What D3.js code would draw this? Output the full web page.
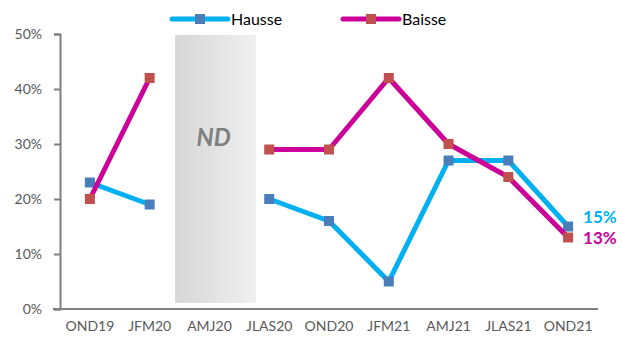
<!DOCTYPE html>
<html><head><meta charset="utf-8">
<script src="https://cdn.jsdelivr.net/npm/d3@7"></script>
<style>body{margin:0;background:#fff}svg{display:block}</style>
</head><body>
<svg id="c" width="622" height="341"></svg>
<script>
const categories = ["OND19","JFM20","AMJ20","JLAS20","OND20","JFM21","AMJ21","JLAS21","OND21"];
const hausse = [23,19,null,20,16,5,27,27,15];
const baisse = [20,42,null,29,29,42,30,24,13];
const yTicks = [0,10,20,30,40,50];
const seriesNames = ["Hausse","Baisse"];
const gapCategory = "AMJ20";
const gapLabel = "ND";

const font = "Lato, 'Open Sans', sans-serif";
const svg = d3.select("#c");
const m = {l:60, r:24, t:34, b:32};
const W = 622, H = 341;
const x = d3.scaleBand().domain(categories).range([m.l, W - m.r]);
const y = d3.scaleLinear().domain([0,50]).range([H - m.b, m.t]);

// gradient for ND band
const defs = svg.append("defs");
const g = defs.append("linearGradient").attr("id","ndg").attr("x1","0").attr("x2","1").attr("y1","0").attr("y2","0");
g.append("stop").attr("offset","0").attr("stop-color","#d6d6d6");
g.append("stop").attr("offset","1").attr("stop-color","#f0f0f0");

const bx = x(gapCategory), bw = x.bandwidth();
const boxX = bx - bw*0.075, boxW = bw*1.355;
svg.append("rect").attr("x", boxX).attr("y", y(50)+1)
  .attr("width", boxW).attr("height", y(1.1) - y(50) - 1)
  .attr("fill","url(#ndg)");
svg.append("text").attr("x", boxX + boxW/2 - 2).attr("y", y(29.6))
  .attr("text-anchor","middle").attr("font-family", font).attr("font-size", 24)
  .attr("font-style","italic").attr("font-weight","bold").attr("fill","#7f7f7f").text(gapLabel);

// axes
const yAxis = svg.append("g").attr("transform",`translate(${m.l},0)`)
  .call(d3.axisLeft(y).tickValues(yTicks).tickFormat(d => d + "%").tickSize(6).tickPadding(12));
yAxis.select(".domain").attr("stroke","#7f7f7f").attr("stroke-width",2);
yAxis.selectAll(".tick line").attr("stroke","#7f7f7f").attr("stroke-width",2);
yAxis.selectAll(".tick text").attr("font-family",font).attr("font-size",14).attr("fill","#595959");

const xAxis = svg.append("g").attr("transform",`translate(0,${y(0)})`)
  .call(d3.axisBottom(x).tickSize(0).tickPadding(12));
xAxis.select(".domain").attr("stroke","#7f7f7f").attr("stroke-width",2).attr("d",`M${m.l-7},0H${W-m.r}`);
xAxis.selectAll(".tick text").attr("font-family",font).attr("font-size",14).attr("fill","#595959");

const cx = d => x(d) + x.bandwidth()/2;
const series = [
  {name: seriesNames[0], values: hausse, line:"#00b0f0", mark:"#4a7ebb"},
  {name: seriesNames[1], values: baisse, line:"#cc0099", mark:"#c0504d"}
];
const lineGen = d3.line().defined(d => d.v != null).x(d => cx(d.c)).y(d => y(d.v));
series.forEach(s => {
  const pts = categories.map((c,i) => ({c, v: s.values[i]}));
  svg.append("path").datum(pts).attr("d", lineGen).attr("fill","none")
    .attr("stroke", s.line).attr("stroke-width",5).attr("stroke-linejoin","round").attr("stroke-linecap","butt");
  svg.selectAll(null).data(pts.filter(d => d.v != null)).enter().append("rect")
    .attr("x", d => cx(d.c) - 5).attr("y", d => y(d.v) - 5).attr("width",10).attr("height",10)
    .attr("fill", s.mark);
});

// end labels
const last = categories.length - 1;
[[hausse, series[0].line, -9],[baisse, series[1].line, 1]].forEach(([vals,col,dy]) => {
  svg.append("text").attr("x", cx(categories[last]) + 15).attr("y", y(vals[last]) + dy)
    .attr("dy","0.35em").attr("font-family",font).attr("font-size",17).attr("font-weight","bold")
    .attr("fill",col).text(vals[last] + "%");
});

// legend
const leg = [{x:172}, {x:343}];
series.forEach((s,i) => {
  const lx = leg[i].x, ly = 19;
  svg.append("line").attr("x1",lx).attr("x2",lx+56).attr("y1",ly).attr("y2",ly)
    .attr("stroke",s.line).attr("stroke-width",5).attr("stroke-linecap","round");
  svg.append("rect").attr("x",lx+23).attr("y",ly-5).attr("width",10).attr("height",10).attr("fill",s.mark);
  svg.append("text").attr("x",lx+59).attr("y",ly).attr("dy","0.35em")
    .attr("font-family",font).attr("font-size",16).attr("fill","#000").text(s.name);
});
</script>
</body></html>
